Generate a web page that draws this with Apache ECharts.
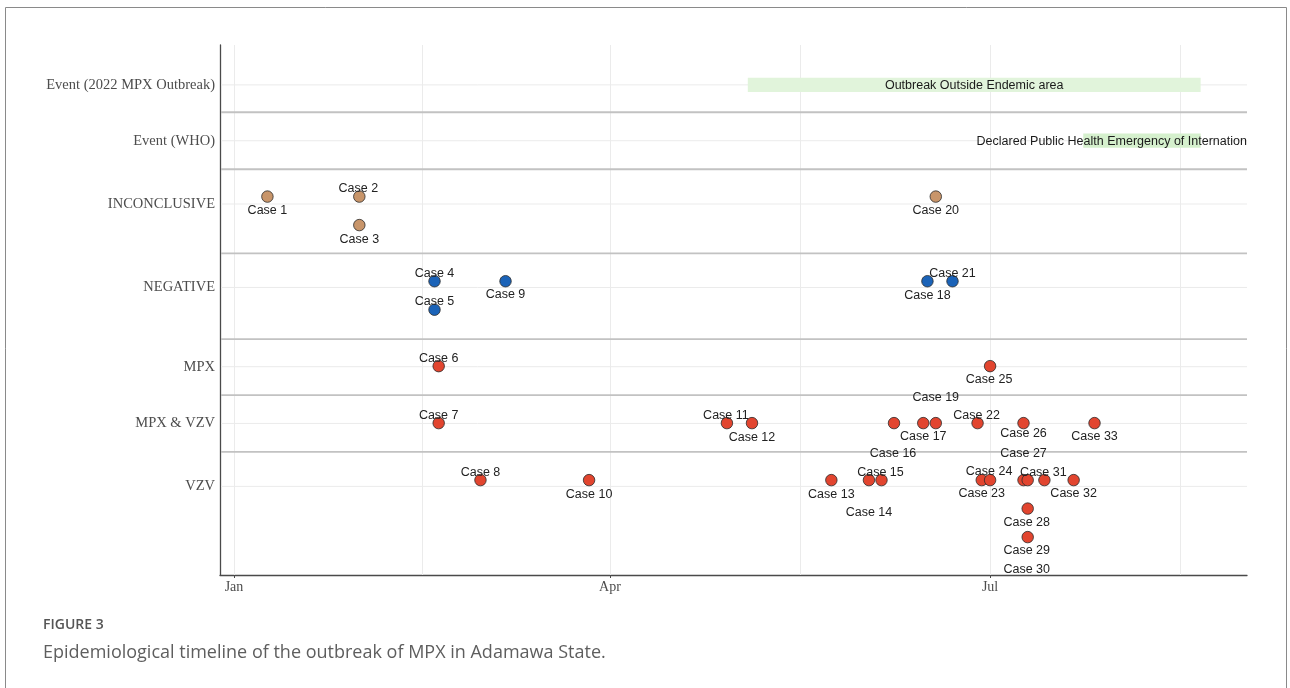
<!DOCTYPE html>
<html><head><meta charset="utf-8">
<script src="https://cdn.jsdelivr.net/npm/echarts@6/dist/echarts.min.js"></script>
<style>html,body{margin:0;padding:0;background:#fff;}#chart{width:1290px;height:688px;}</style>
</head><body><div id="chart"></div>
<script>
// ---- data ----
const categories = ['VZV', 'MPX & VZV', 'MPX', 'NEGATIVE', 'INCONCLUSIVE', 'Event (WHO)', 'Event (2022 MPX Outbreak)'];
const categoryLevels = [3.11, 5.32, 7.31, 10.09, 13.02, 15.24, 17.2];
const bandEdges = [4.32, 6.31, 8.28, 11.29, 14.24, 16.24];
const firstRowLevel = { 'VZV': 3.33, 'MPX & VZV': 5.33, 'MPX': 7.33, 'NEGATIVE': 10.31, 'INCONCLUSIVE': 13.28 };

// days since 1 Jan 2022
const monthTickDays = [0, 90, 181];
const monthTickLabels = ['Jan', 'Apr', 'Jul'];
const minorGridDays = [45, 135.5, 226.5];

const caseNames = ['Case 1','Case 2','Case 3','Case 4','Case 5','Case 6','Case 7','Case 8','Case 9','Case 10',
  'Case 11','Case 12','Case 13','Case 14','Case 15','Case 16','Case 17','Case 18','Case 19','Case 20',
  'Case 21','Case 22','Case 23','Case 24','Case 25','Case 26','Case 27','Case 28','Case 29','Case 30',
  'Case 31','Case 32','Case 33'];
const caseResults = ['INCONCLUSIVE','INCONCLUSIVE','INCONCLUSIVE','NEGATIVE','NEGATIVE','MPX','MPX & VZV','VZV','NEGATIVE','VZV',
  'MPX & VZV','MPX & VZV','VZV','VZV','VZV','MPX & VZV','MPX & VZV','NEGATIVE','MPX & VZV','INCONCLUSIVE',
  'NEGATIVE','MPX & VZV','VZV','VZV','MPX','MPX & VZV','VZV','VZV','VZV','VZV',
  'VZV','VZV','MPX & VZV'];
const caseDays = [8, 30, 30, 48, 48, 49, 49, 59, 65, 85,
  118, 124, 143, 152, 155, 158, 165, 166, 168, 168,
  172, 178, 179, 181, 181, 189, 189, 190, 190, 190,
  194, 201, 206];
const caseStack = [0, 0, 1, 0, 1, 0, 0, 0, 0, 0,
  0, 0, 0, 0, 0, 0, 0, 0, 0, 0,
  0, 0, 0, 0, 0, 0, 0, 1, 2, 0,
  0, 0, 0];

const eventRows = ['Event (2022 MPX Outbreak)', 'Event (WHO)'];
const eventTexts = ['Outbreak Outside Endemic area', 'Declared Public Health Emergency of International Concern'];
const eventStart = [123, 203.3];
const eventEnd = [231.4, 231.4];

// ---- styling / label layout (repelled label offsets, px) ----
const resultColors = { 'INCONCLUSIVE': '#c8956a', 'NEGATIVE': '#1b63b8', 'MPX': '#e2452f', 'MPX & VZV': '#e2452f', 'VZV': '#e2452f' };
const eventColors = ['#e1f4db', '#d5f0cd'];
const labelOffsets = {
  'Case 1':[0,13],'Case 2':[-1,-9],'Case 3':[0,13],'Case 4':[0,-9],'Case 5':[0,-9],'Case 6':[0,-9],'Case 7':[0,-9],
  'Case 8':[0,-9],'Case 9':[0,12],'Case 10':[0,13],'Case 11':[-1,-9],'Case 12':[0,13],'Case 13':[0,13],'Case 14':[0,31],
  'Case 15':[-1,-9],'Case 16':[-1,29],'Case 17':[0,12],'Case 18':[0,13],'Case 19':[0,-27],'Case 20':[0,13],'Case 21':[0,-9],
  'Case 22':[-1,-9],'Case 23':[0,12],'Case 24':[-1,-10],'Case 25':[-1,12],'Case 26':[0,9],'Case 27':[0,-28],
  'Case 28':[-1,13],'Case 29':[-1,12],'Case 30':[-1,88],'Case 31':[-1,-9],'Case 32':[0,12],'Case 33':[0,12]
};

const chart = echarts.init(document.getElementById('chart'), null, { renderer: 'canvas' });

// grid line records: [kind, value]  kind 0 = vertical, 1 = light horizontal, 2 = panel separator
const gridRecords = []
  .concat(monthTickDays.concat(minorGridDays).map(d => [0, d]))
  .concat(categoryLevels.map(v => [1, v]))
  .concat(bandEdges.map(v => [2, v]));

const casePoints = caseNames.map((n, i) => [caseDays[i], firstRowLevel[caseResults[i]] - caseStack[i], i]);

const option = {
  animation: false,
  backgroundColor: '#ffffff',
  title: [
    { text: 'FIGURE 3', left: 38, top: 611,
      textStyle: { fontFamily: 'Open Sans', fontSize: 14, fontWeight: 600, color: '#555555', lineHeight: 18 } },
    { text: 'Epidemiological timeline of the outbreak of MPX in Adamawa State.', left: 38, top: 636,
      textStyle: { fontFamily: 'Open Sans', fontSize: 18, fontWeight: 'normal', color: '#5e5e5e', lineHeight: 24 } }
  ],
  graphic: [
    { type: 'rect', silent: true, z: -10,
      shape: { x: 5.5, y: 7.5, width: 1281, height: 720 },
      style: { fill: 'none', stroke: '#8a8a8a', lineWidth: 1 } }
  ],
  grid: { left: 220, right: 43, top: 45, bottom: 113, containLabel: false },
  xAxis: {
    type: 'value', min: -3.35, max: 242.5, interval: 50,
    axisLine: { show: true, onZero: false, lineStyle: { color: '#4a4a4a', width: 1.3 } },
    axisTick: { show: true, length: 3, customValues: monthTickDays, lineStyle: { color: '#4a4a4a' } },
    axisLabel: {
      customValues: monthTickDays, margin: 5,
      formatter: v => { const k = monthTickDays.findIndex(d => Math.abs(d - v) < 1e-6); return k >= 0 ? monthTickLabels[k] : ''; },
      fontFamily: 'Liberation Serif', fontSize: 14, color: '#4d4d4d'
    },
    splitLine: { show: false }
  },
  yAxis: {
    type: 'value', min: 0, max: 18.6, interval: 2,
    axisLine: { show: true, onZero: false, lineStyle: { color: '#4a4a4a', width: 1.3 } },
    axisTick: { show: false, customValues: categoryLevels, length: 0 },
    axisLabel: {
      customValues: categoryLevels, margin: 5,
      formatter: v => { const k = categoryLevels.findIndex(d => Math.abs(d - v) < 1e-6); return k >= 0 ? categories[k] : ''; },
      fontFamily: 'Liberation Serif', fontSize: 14.5, color: '#4d4d4d'
    },
    splitLine: { show: false }
  },
  series: [
    {
      type: 'custom', z: 1, silent: true,
      data: gridRecords,
      encode: { x: -1, y: -1 },
      renderItem: (params, api) => {
        const kind = api.value(0), v = api.value(1);
        const cs = params.coordSys;
        if (kind === 0) {
          const x = Math.round(api.coord([v, 0])[0]) + 0.5;
          return { type: 'line', shape: { x1: x, y1: cs.y, x2: x, y2: cs.y + cs.height },
                   style: { stroke: '#ebebeb', lineWidth: 1 } };
        }
        const y = api.coord([0, v])[1];
        return { type: 'line', shape: { x1: cs.x + 1, y1: y, x2: cs.x + cs.width, y2: y },
                 style: kind === 1 ? { stroke: '#ebebeb', lineWidth: 1 } : { stroke: '#c2c2c2', lineWidth: 1.8 } };
      }
    },
    {
      type: 'custom', z: 2, silent: true,
      data: eventRows.map((r, i) => [eventStart[i], eventEnd[i], categoryLevels[categories.indexOf(r)], i]),
      encode: { x: [0, 1], y: 2 },
      renderItem: (params, api) => {
        const s = api.coord([api.value(0), api.value(2)]);
        const e = api.coord([api.value(1), api.value(2)]);
        const h = api.size([0, 0.5])[1];
        const i = api.value(3);
        const cs = params.coordSys;
        return {
          type: 'group',
          clipPath: { type: 'rect', shape: { x: cs.x, y: cs.y, width: cs.width, height: cs.height } },
          children: [
            { type: 'rect', shape: { x: s[0], y: s[1] - h / 2, width: e[0] - s[0], height: h }, style: { fill: eventColors[i] } },
            { type: 'text', x: (s[0] + e[0]) / 2, y: s[1] + 1,
              style: { text: eventTexts[i], align: 'center', verticalAlign: 'middle',
                       font: '12.5px "Liberation Sans", Arial, sans-serif', fill: '#1a1a1a' } }
          ]
        };
      }
    },
    {
      type: 'scatter', z: 3, symbol: 'circle', symbolSize: 11.5, silent: true,
      itemStyle: { borderColor: '#2b2b2b', borderWidth: 0.8, opacity: 1 },
      label: { show: false },
      data: casePoints.map(p => ({ value: [p[0], p[1]], itemStyle: { color: resultColors[caseResults[p[2]]] } }))
    },
    {
      type: 'custom', z: 4, silent: true,
      data: casePoints,
      encode: { x: 0, y: 1 },
      renderItem: (params, api) => {
        const c = api.coord([api.value(0), api.value(1)]);
        const name = caseNames[api.value(2)];
        const off = labelOffsets[name];
        return { type: 'text', x: c[0] + off[0], y: c[1] + off[1] + 1,
                 style: { text: name, align: 'center', verticalAlign: 'middle',
                          font: '12.5px "Liberation Sans", Arial, sans-serif', fill: '#222222' } };
      }
    }
  ]
};
chart.setOption(option);
</script></body></html>
